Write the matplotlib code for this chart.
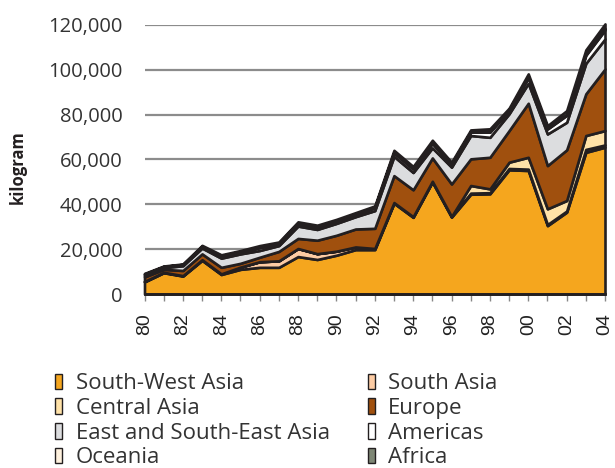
import matplotlib
matplotlib.use("Agg")
import matplotlib.pyplot as plt
from matplotlib.ticker import FuncFormatter, MultipleLocator

years = list(range(1980, 2005))
year_labels = ["80", "82", "84", "86", "88", "90", "92", "94", "96", "98", "00", "02", "04"]

south_west_asia = [5400, 9500, 8000, 15000, 8700, 11000, 11900, 11900, 16700, 15400, 17300, 19800, 19800,
                   40500, 34200, 50000, 34300, 44500, 44700, 55400, 55100, 30500, 36500, 63200, 65500]
south_asia = [200, 200, 200, 300, 300, 1000, 2500, 2900, 3600, 2600, 1800, 1200, 500,
              300, 300, 300, 300, 500, 500, 600, 600, 500, 500, 1300, 1000]
central_asia = [0, 0, 0, 0, 0, 0, 0, 0, 0, 0, 0, 0, 0,
                0, 0, 0, 0, 3400, 1700, 2800, 5300, 7000, 4700, 6200, 6400]
europe = [2000, 1300, 2300, 2600, 2900, 1700, 2000, 4200, 4500, 6000, 7100, 8000, 9000,
          12000, 12000, 10400, 14500, 11900, 14100, 14100, 24100, 19300, 22600, 18600, 27500]
east_se_asia = [600, 800, 2100, 2600, 4100, 4200, 3000, 2600, 5500, 4800, 5300, 5500, 7900,
                8600, 7700, 4500, 7500, 10400, 8900, 7500, 8900, 14100, 12300, 13600, 13400]
americas = [600, 400, 500, 700, 900, 900, 1300, 1000, 1100, 1100, 1100, 1100, 1300,
            1600, 1600, 2000, 1300, 1500, 2300, 1500, 2500, 2200, 3100, 3600, 4000]
oceania = [100, 100, 100, 100, 200, 200, 200, 200, 200, 200, 200, 200, 200,
           300, 300, 300, 200, 300, 400, 300, 400, 400, 500, 600, 700]
africa = [300, 200, 200, 400, 400, 400, 700, 400, 600, 600, 500, 500, 600,
          800, 800, 1100, 700, 700, 1100, 700, 1300, 1100, 1600, 1800, 2000]

series = [south_west_asia, south_asia, central_asia, europe, east_se_asia, americas, oceania, africa]
labels = ["South-West Asia", "South Asia", "Central Asia", "Europe",
          "East and South-East Asia", "Americas", "Oceania", "Africa"]
colors = ["#F5A61E", "#FDCCA4", "#FFE2A8", "#A0500E", "#DCDDDF", "#FFFFFF", "#FEF1DE", "#7E8775"]

plt.rcParams['font.family'] = ['Open Sans', 'DejaVu Sans']

fig = plt.figure(figsize=(6.15, 4.68), dpi=100)
ax = fig.add_axes([144.5 / 615, 1 - 294 / 468, (605 - 144.5) / 615, (294 - 25) / 468])

polys = ax.stackplot(years, *series, colors=colors, labels=labels,
                     edgecolor="#231F20", linewidth=1.9, zorder=3)
for p in polys:
    p.set_clip_on(False)

ax.set_xlim(1980, 2004)
ax.set_ylim(0, 120000)
ax.yaxis.set_major_locator(MultipleLocator(20000))
ax.yaxis.set_major_formatter(FuncFormatter(lambda v, p: f"{int(v):,}"))
ax.grid(axis="y", color="#8C8C8C", linewidth=1.6, zorder=1)
ax.set_axisbelow(True)

ax.set_xticks(years)
ax.set_xticklabels([year_labels[i // 2] if i % 2 == 0 else "" for i in range(len(years))],
                   rotation=90, family=["Liberation Sans", "DejaVu Sans"], fontsize=14, color="#222222")
ax.tick_params(axis="x", length=5, width=1, color="#888888", pad=9)
ax.tick_params(axis="y", length=0, pad=16, labelsize=14.5, labelcolor="#333333")

for s in ["top", "right", "left"]:
    ax.spines[s].set_visible(False)
ax.spines["bottom"].set_color("#231F20")
ax.spines["bottom"].set_linewidth(2)
ax.spines["bottom"].set_zorder(4)

ax.set_ylabel("kilogram", fontsize=12, fontweight="bold", color="#231F20")
ax.yaxis.set_label_coords(-0.255, 0.472)

# legend filled row by row (two columns)
handles, leg_labels = ax.get_legend_handles_labels()
order = [0, 2, 4, 6, 1, 3, 5, 7]
leg = fig.legend([handles[i] for i in order], [leg_labels[i] for i in order],
                 loc="upper left", bbox_to_anchor=(44 / 615, 1 - 362 / 468), ncol=2,
                 frameon=False, fontsize=16, handlelength=0.33, handleheight=0.68,
                 handletextpad=0.6, labelspacing=0.17, columnspacing=1.7, borderpad=0,
                 labelcolor="#333333")
for h in leg.legend_handles:
    h.set_edgecolor("#231F20")
    h.set_linewidth(1.0)

fig.savefig("out.png", dpi=100)
